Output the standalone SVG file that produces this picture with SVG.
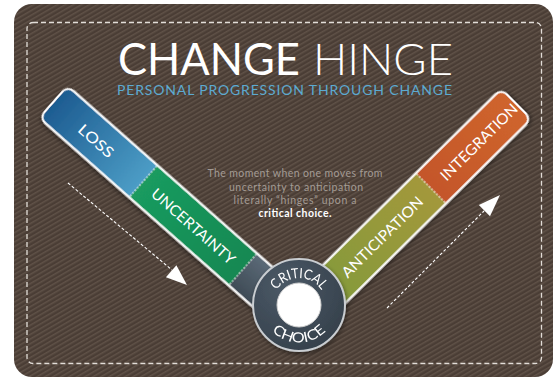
<svg xmlns="http://www.w3.org/2000/svg" width="554" height="379" viewBox="0 0 554 379">
<defs>
<style>
.lbl{font-family:"Lato","Liberation Sans",sans-serif;font-size:15px;fill:#ffffff;text-anchor:middle;}
.para{font-family:"Lato","Liberation Sans",sans-serif;font-size:10.5px;fill:#a39b94;text-anchor:middle;}
.div{stroke:#ffffff;stroke-width:1;stroke-dasharray:2 1.5;fill:none;}
.arrline{stroke:#ffffff;stroke-width:1.1;stroke-dasharray:3 2;fill:none;}
.arrhead{fill:#ffffff;}
.ring{font-family:"Lato","Liberation Sans",sans-serif;font-size:14px;fill:#ffffff;}
</style>
<pattern id="stripes" width="4" height="4" patternUnits="userSpaceOnUse" patternTransform="rotate(-30)">
<rect width="4" height="4" fill="#4a3d35"/>
<rect width="4" height="1.5" fill="#605248"/>
</pattern>
<linearGradient id="gLoss" x1="0" y1="0" x2="1" y2="0">
<stop offset="0" stop-color="#1d5c91"/><stop offset="1" stop-color="#4c9dc6"/>
</linearGradient>
<linearGradient id="gUnc" x1="0" y1="0" x2="1" y2="0">
<stop offset="0" stop-color="#1a9b5f"/><stop offset="1" stop-color="#128852"/>
</linearGradient>
<linearGradient id="gGrey" x1="0" y1="0" x2="0" y2="1">
<stop offset="0" stop-color="#5b6a77"/><stop offset="1" stop-color="#3f4b56"/>
</linearGradient>
<linearGradient id="gAnt" x1="0" y1="0" x2="1" y2="0">
<stop offset="0" stop-color="#7c9b3a"/><stop offset="1" stop-color="#a3983a"/>
</linearGradient>
<linearGradient id="gInt" x1="0" y1="0" x2="1" y2="0">
<stop offset="0" stop-color="#c4562a"/><stop offset="1" stop-color="#cf652d"/>
</linearGradient>
<radialGradient id="gRing" cx="0.35" cy="0.3" r="0.8">
<stop offset="0" stop-color="#4b5966"/><stop offset="1" stop-color="#343f4a"/>
</radialGradient>
<clipPath id="clipL"><rect x="-119" y="-20.5" width="324" height="41" rx="7"/></clipPath>
<clipPath id="clipR"><rect x="-185" y="-20.5" width="304" height="41" rx="7"/></clipPath>
<filter id="sh" x="-20%" y="-20%" width="140%" height="140%">
<feDropShadow dx="1" dy="2" stdDeviation="2" flood-color="#000000" flood-opacity="0.45"/>
</filter>
<path id="pCrit" d="M272.92,298.01 A27,27 0 0 1 325.08,298.01"/>
<path id="pChoice" d="M262.78,314.71 A37.5,37.5 0 0 0 335.22,314.71"/>
</defs>

<g id="card">
<rect x="14" y="4" width="539" height="373" rx="18" fill="url(#stripes)"/>
<rect x="27" y="22.5" width="514.5" height="341" rx="6" fill="none" stroke="#e2ddd8" stroke-width="1.3" stroke-dasharray="5 3"/>
</g>

<g id="title">
<text x="118" y="75" font-family="Lato, 'Liberation Sans', sans-serif" font-size="44" font-weight="400" fill="#ffffff" textLength="182" lengthAdjust="spacingAndGlyphs">CHANGE</text>
<text x="313" y="75" font-family="Lato, 'Liberation Sans', sans-serif" font-size="44" font-weight="300" fill="#ffffff" textLength="140" lengthAdjust="spacingAndGlyphs">HINGE</text>
</g>
<g id="subtitle">
<text x="117" y="94.5" font-family="Lato, 'Liberation Sans', sans-serif" font-size="14" fill="#5caad1" textLength="335" lengthAdjust="spacing">PERSONAL PROGRESSION THROUGH CHANGE</text>
</g>

<g id="description">
<text class="para" x="295" y="177.3" textLength="175" lengthAdjust="spacing">The moment when one moves from</text>
<text class="para" x="296" y="190.7" textLength="134" lengthAdjust="spacing">uncertainty to anticipation</text>
<text class="para" x="295" y="204.3" textLength="123" lengthAdjust="spacing">literally “hinges” upon a</text>
<text class="para" x="295" y="217.3" textLength="73" lengthAdjust="spacing" font-weight="700" style="fill:#ffffff">critical choice.</text>
</g>

<g id="connectors">
<line class="arrline" x1="68" y1="183" x2="172" y2="270"/>
<polygon class="arrhead" points="187,285 165.9,277.2 176.4,265.2"/>
<line class="arrline" x1="387" y1="308" x2="484" y2="211"/>
<polygon class="arrhead" points="500,195 490,216.3 478.8,205"/>
</g>

<g id="bar-left" transform="translate(143.3,181.3) rotate(41.5)" filter="url(#sh)">
<rect x="-121" y="-22.5" width="328" height="45" rx="9" fill="#ffffff"/>
<g clip-path="url(#clipL)">
<rect id="loss" x="-119" y="-20.5" width="119" height="41" fill="url(#gLoss)"/>
<rect id="uncertainty" x="0" y="-20.5" width="133" height="41" fill="url(#gUnc)"/>
<rect id="connector-grey" x="133" y="-20.5" width="72" height="41" fill="url(#gGrey)"/>
</g>
<line class="div" x1="0" y1="-20.5" x2="0" y2="20.5"/>
<line class="div" x1="133" y1="-20.5" x2="133" y2="20.5"/>
</g>

<g id="bar-right" transform="translate(431,188.3) rotate(-44.7)" filter="url(#sh)">
<rect x="-187" y="-22.5" width="308" height="45" rx="9" fill="#ffffff"/>
<g clip-path="url(#clipR)">
<rect id="anticipation" x="-185" y="-20.5" width="185" height="41" fill="url(#gAnt)"/>
<rect id="integration" x="0" y="-20.5" width="119" height="41" fill="url(#gInt)"/>
</g>
<line class="div" x1="0" y1="-20.5" x2="0" y2="20.5"/>
</g>

<g id="labels">
<text class="lbl" transform="translate(96,141) rotate(41.5)" y="5.3" textLength="42" lengthAdjust="spacingAndGlyphs">LOSS</text>
<text class="lbl" transform="translate(193.3,226.3) rotate(41.5)" y="5.3" textLength="106" lengthAdjust="spacingAndGlyphs">UNCERTAINTY</text>
<text class="lbl" transform="translate(382.3,237) rotate(-44.7)" y="5.3" textLength="108" lengthAdjust="spacingAndGlyphs">ANTICIPATION</text>
<text class="lbl" transform="translate(479,142) rotate(-44.7)" y="5.3" textLength="102" lengthAdjust="spacingAndGlyphs">INTEGRATION</text>
</g>

<g id="hinge" filter="url(#sh)">
<circle cx="299" cy="305" r="46" fill="url(#gRing)" stroke="#c9cdd1" stroke-width="2"/>
<circle cx="299" cy="305" r="22" fill="#ffffff" stroke="#d0d0d0" stroke-width="1"/>
<text class="ring"><textPath href="#pCrit" startOffset="50%" text-anchor="middle" textLength="53" lengthAdjust="spacingAndGlyphs">CRITICAL</textPath></text>
<text class="ring"><textPath href="#pChoice" startOffset="50%" text-anchor="middle" textLength="60" lengthAdjust="spacingAndGlyphs">CHOICE</textPath></text>
</g>
</svg>
